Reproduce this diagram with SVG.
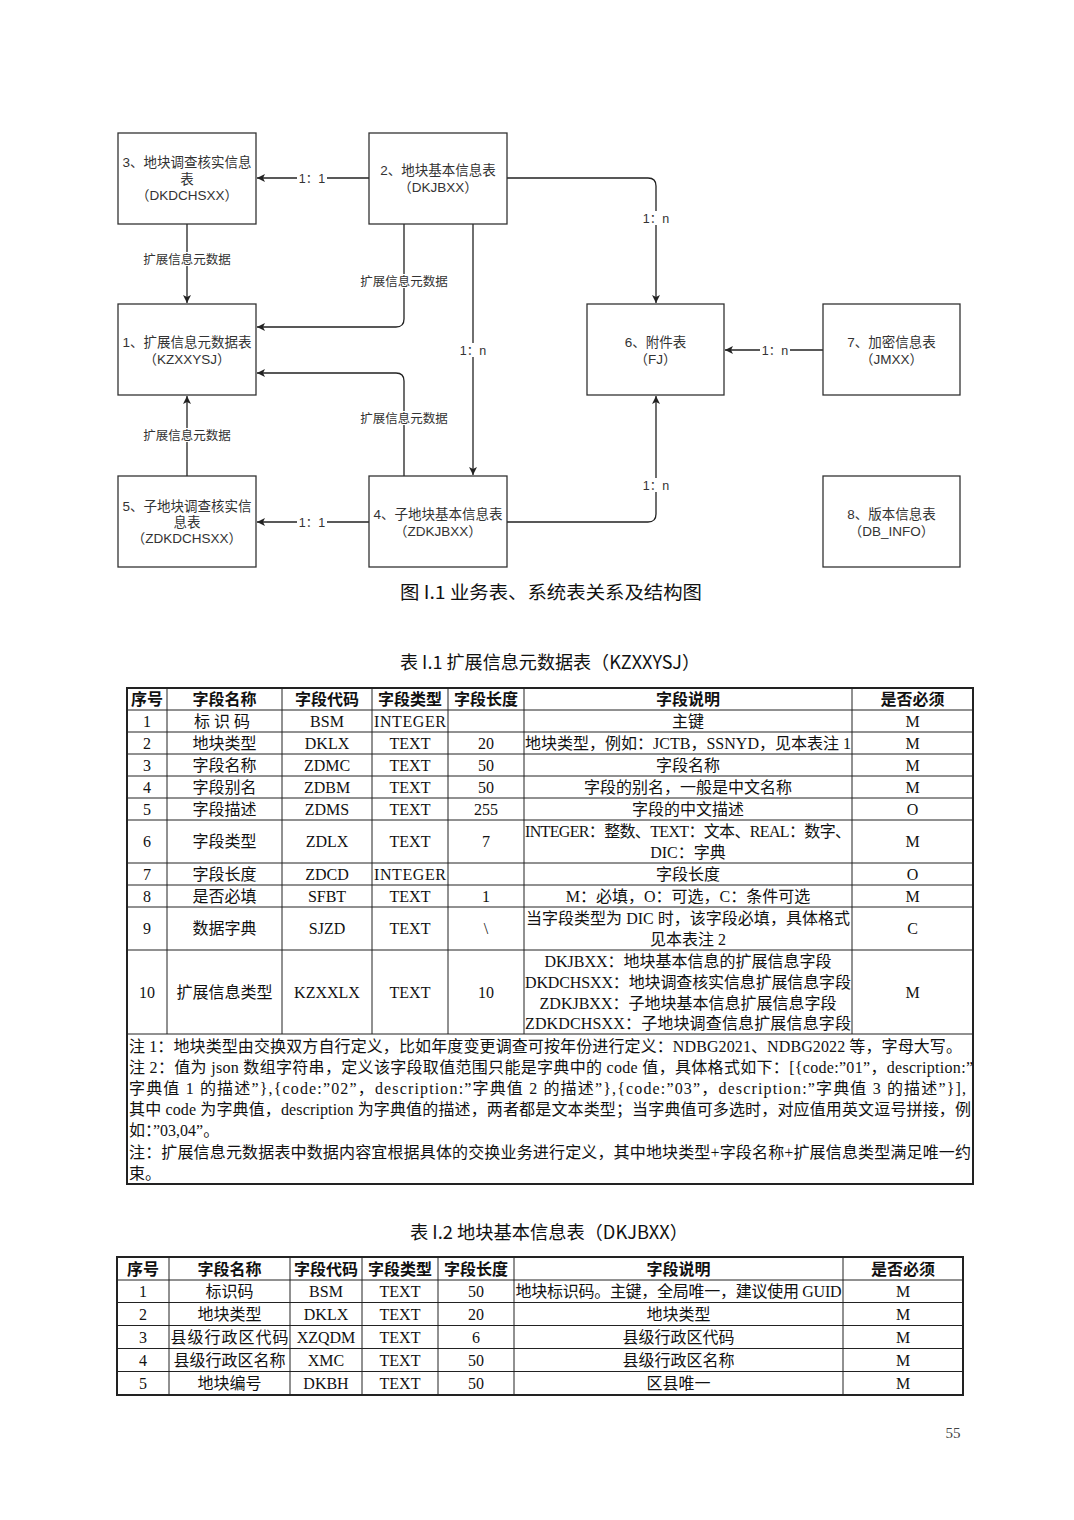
<svg xmlns="http://www.w3.org/2000/svg" width="1074" height="1520" viewBox="0 0 1074 1520">
<defs>
<style>
.box{fill:#fff;stroke:#333;stroke-width:1.3}
.bt{font-family:"Liberation Sans","Noto Sans CJK SC",sans-serif;font-size:13.5px;fill:#333;text-anchor:middle}
.conn{fill:none;stroke:#222;stroke-width:1.3;marker-end:url(#arr)}
.lbl{font-family:"Liberation Sans","Noto Sans CJK SC",sans-serif;font-size:12.5px;fill:#333;text-anchor:middle}
.bg{fill:#fff}
.cap{font-family:"Noto Sans CJK SC",sans-serif;font-size:18px;fill:#111}
.td{font-family:"Liberation Serif","Noto Sans CJK SC",serif;font-size:16px;fill:#111;text-anchor:middle}
.tl{font-family:"Liberation Serif","Noto Sans CJK SC",serif;font-size:16px;fill:#111}
.th{font-family:"Noto Sans CJK SC",sans-serif;font-weight:bold;font-size:16px;fill:#111;text-anchor:middle}
.grid{stroke:#222;stroke-width:1;fill:none}
.outer{stroke:#222;stroke-width:2;fill:none}
.pg{font-family:"Liberation Serif",serif;font-size:15px;fill:#444;text-anchor:middle}
</style>
<marker id="arr" markerWidth="10" markerHeight="10" refX="9" refY="5" orient="auto" markerUnits="userSpaceOnUse">
<path d="M1,1 L9,5 L1,9 L3,5 z" fill="#222"/>
</marker>
</defs>
<rect width="1074" height="1520" fill="#fff"/>

<g id="connectors">
<path class="conn" d="M369,178 H257"/>
<path class="conn" d="M187,224 V303"/>
<path class="conn" d="M404,224 V319 Q404,327 396,327 H257"/>
<path class="conn" d="M473,224 V475"/>
<path class="conn" d="M507,178 H648 Q656,178 656,186 V303"/>
<path class="conn" d="M823,350 H725"/>
<path class="conn" d="M404,476 V381 Q404,373 396,373 H257"/>
<path class="conn" d="M187,476 V396"/>
<path class="conn" d="M369,522 H257"/>
<path class="conn" d="M507,522 H648 Q656,522 656,514 V396"/>
<rect class="bg" x="297" y="171" width="30" height="14"/><text class="lbl" x="312" y="182.5">1：1</text>
<rect class="bg" x="142" y="252" width="90" height="14"/><text class="lbl" x="187" y="263.5">扩展信息元数据</text>
<rect class="bg" x="359" y="274" width="90" height="14"/><text class="lbl" x="404" y="285.5">扩展信息元数据</text>
<rect class="bg" x="458" y="343" width="30" height="14"/><text class="lbl" x="473" y="354.5">1：n</text>
<rect class="bg" x="641" y="211" width="30" height="14"/><text class="lbl" x="656" y="222.5">1：n</text>
<rect class="bg" x="760" y="343" width="30" height="14"/><text class="lbl" x="775" y="354.5">1：n</text>
<rect class="bg" x="359" y="411" width="90" height="14"/><text class="lbl" x="404" y="422.5">扩展信息元数据</text>
<rect class="bg" x="142" y="428" width="90" height="14"/><text class="lbl" x="187" y="439.5">扩展信息元数据</text>
<rect class="bg" x="297" y="515" width="30" height="14"/><text class="lbl" x="312" y="526.5">1：1</text>
<rect class="bg" x="641" y="478" width="30" height="14"/><text class="lbl" x="656" y="489.5">1：n</text>
</g>

<g id="node-3"><rect class="box" x="118" y="133" width="138" height="91"/>
<text class="bt" x="187" y="167">3、地块调查核实信息</text><text class="bt" x="187" y="183.5">表</text><text class="bt" x="187" y="200">（DKDCHSXX）</text></g>
<g id="node-2"><rect class="box" x="369" y="133" width="138" height="91"/>
<text class="bt" x="438" y="175">2、地块基本信息表</text><text class="bt" x="438" y="192">（DKJBXX）</text></g>
<g id="node-1"><rect class="box" x="118" y="304" width="138" height="91"/>
<text class="bt" x="187" y="347">1、扩展信息元数据表</text><text class="bt" x="187" y="364">（KZXXYSJ）</text></g>
<g id="node-6"><rect class="box" x="587" y="304" width="137" height="91"/>
<text class="bt" x="655.5" y="347">6、附件表</text><text class="bt" x="655.5" y="364">（FJ）</text></g>
<g id="node-7"><rect class="box" x="823" y="304" width="137" height="91"/>
<text class="bt" x="891.5" y="347">7、加密信息表</text><text class="bt" x="891.5" y="364">（JMXX）</text></g>
<g id="node-5"><rect class="box" x="118" y="476" width="138" height="91"/>
<text class="bt" x="187" y="511">5、子地块调查核实信</text><text class="bt" x="187" y="527">息表</text><text class="bt" x="187" y="543">（ZDKDCHSXX）</text></g>
<g id="node-4"><rect class="box" x="369" y="476" width="138" height="91"/>
<text class="bt" x="438" y="518.5">4、子地块基本信息表</text><text class="bt" x="438" y="535.5">（ZDKJBXX）</text></g>
<g id="node-8"><rect class="box" x="823" y="476" width="137" height="91"/>
<text class="bt" x="891.5" y="518.5">8、版本信息表</text><text class="bt" x="891.5" y="535.5">（DB_INFO）</text></g>

<text class="cap" x="400" y="599" textLength="302" lengthAdjust="spacingAndGlyphs">图 I.1 业务表、系统表关系及结构图</text>
<text class="cap" x="400" y="669" textLength="300" lengthAdjust="spacingAndGlyphs">表 I.1 扩展信息元数据表（KZXXYSJ）</text>

<g id="table-1">
<rect class="outer" x="127" y="688" width="846" height="496"/>
<path class="grid" d="M167,688V1034 M282,688V1034 M372,688V1034 M448,688V1034 M524,688V1034 M852,688V1034 M127,710H973 M127,732H973 M127,754H973 M127,776H973 M127,798H973 M127,820H973 M127,863H973 M127,885H973 M127,907H973 M127,950H973 M127,1034H973"/>
<text class="th" x="147" y="705">序号</text><text class="th" x="224.5" y="705">字段名称</text><text class="th" x="327" y="705">字段代码</text><text class="th" x="410" y="705">字段类型</text><text class="th" x="486" y="705">字段长度</text><text class="th" x="688" y="705">字段说明</text><text class="th" x="912.5" y="705">是否必须</text>

<text class="td" x="147" y="726.5">1</text><text class="td" x="222" y="726.5" textLength="56">标识码</text><text class="td" x="327" y="726.5">BSM</text><text class="td" x="410" y="726.5" textLength="72">INTEGER</text><text class="td" x="688" y="726.5">主键</text><text class="td" x="912.5" y="726.5">M</text>

<text class="td" x="147" y="748.5">2</text><text class="td" x="224.5" y="748.5">地块类型</text><text class="td" x="327" y="748.5">DKLX</text><text class="td" x="410" y="748.5">TEXT</text><text class="td" x="486" y="748.5">20</text><text class="td" x="688" y="748.5" textLength="326">地块类型，例如：JCTB，SSNYD，见本表注 1</text><text class="td" x="912.5" y="748.5">M</text>

<text class="td" x="147" y="770.5">3</text><text class="td" x="224.5" y="770.5">字段名称</text><text class="td" x="327" y="770.5">ZDMC</text><text class="td" x="410" y="770.5">TEXT</text><text class="td" x="486" y="770.5">50</text><text class="td" x="688" y="770.5">字段名称</text><text class="td" x="912.5" y="770.5">M</text>

<text class="td" x="147" y="792.5">4</text><text class="td" x="224.5" y="792.5">字段别名</text><text class="td" x="327" y="792.5">ZDBM</text><text class="td" x="410" y="792.5">TEXT</text><text class="td" x="486" y="792.5">50</text><text class="td" x="688" y="792.5">字段的别名，一般是中文名称</text><text class="td" x="912.5" y="792.5">M</text>

<text class="td" x="147" y="814.5">5</text><text class="td" x="224.5" y="814.5">字段描述</text><text class="td" x="327" y="814.5">ZDMS</text><text class="td" x="410" y="814.5">TEXT</text><text class="td" x="486" y="814.5">255</text><text class="td" x="688" y="814.5">字段的中文描述</text><text class="td" x="912.5" y="814.5">O</text>

<text class="td" x="147" y="847">6</text><text class="td" x="224.5" y="847">字段类型</text><text class="td" x="327" y="847">ZDLX</text><text class="td" x="410" y="847">TEXT</text><text class="td" x="486" y="847">7</text><text class="td" x="688" y="836.5" textLength="326">INTEGER：整数、TEXT：文本、REAL：数字、</text><text class="td" x="688" y="857.5">DIC：字典</text><text class="td" x="912.5" y="847">M</text>

<text class="td" x="147" y="879.5">7</text><text class="td" x="224.5" y="879.5">字段长度</text><text class="td" x="327" y="879.5">ZDCD</text><text class="td" x="410" y="879.5" textLength="72">INTEGER</text><text class="td" x="688" y="879.5">字段长度</text><text class="td" x="912.5" y="879.5">O</text>

<text class="td" x="147" y="901.5">8</text><text class="td" x="224.5" y="901.5">是否必填</text><text class="td" x="327" y="901.5">SFBT</text><text class="td" x="410" y="901.5">TEXT</text><text class="td" x="486" y="901.5">1</text><text class="td" x="688" y="901.5">M：必填，O：可选，C：条件可选</text><text class="td" x="912.5" y="901.5">M</text>

<text class="td" x="147" y="934">9</text><text class="td" x="224.5" y="934">数据字典</text><text class="td" x="327" y="934">SJZD</text><text class="td" x="410" y="934">TEXT</text><text class="td" x="486" y="934">\</text><text class="td" x="688" y="923.5" textLength="324">当字段类型为 DIC 时，该字段必填，具体格式</text><text class="td" x="688" y="944.5">见本表注 2</text><text class="td" x="912.5" y="934">C</text>

<text class="td" x="147" y="997.5">10</text><text class="td" x="224.5" y="997.5">扩展信息类型</text><text class="td" x="327" y="997.5">KZXXLX</text><text class="td" x="410" y="997.5">TEXT</text><text class="td" x="486" y="997.5">10</text>
<text class="td" x="688" y="966.5">DKJBXX：地块基本信息的扩展信息字段</text>
<text class="td" x="688" y="987.5" textLength="326">DKDCHSXX：地块调查核实信息扩展信息字段</text>
<text class="td" x="688" y="1008.5">ZDKJBXX：子地块基本信息扩展信息字段</text>
<text class="td" x="688" y="1029" textLength="326">ZDKDCHSXX：子地块调查信息扩展信息字段</text>
<text class="td" x="912.5" y="997.5">M</text>

<text class="tl" x="129" y="1051.5" textLength="833">注 1：地块类型由交换双方自行定义，比如年度变更调查可按年份进行定义：NDBG2021、NDBG2022 等，字母大写。</text>
<text class="tl" x="129" y="1072.7" textLength="844">注 2：值为 json 数组字符串，定义该字段取值范围只能是字典中的 code 值，具体格式如下：[{code:”01”，description:”</text>
<text class="tl" x="129" y="1093.9" textLength="837">字典值 1 的描述”},{code:”02”，description:”字典值 2 的描述”},{code:”03”，description:”字典值 3 的描述”}],</text>
<text class="tl" x="129" y="1115.1" textLength="842">其中 code 为字典值，description 为字典值的描述，两者都是文本类型；当字典值可多选时，对应值用英文逗号拼接，例</text>
<text class="tl" x="129" y="1136.3">如：”03,04”。</text>
<text class="tl" x="129" y="1157.5" textLength="842">注：扩展信息元数据表中数据内容宜根据具体的交换业务进行定义，其中地块类型+字段名称+扩展信息类型满足唯一约</text>
<text class="tl" x="129" y="1178.7">束。</text>
</g>

<text class="cap" x="410" y="1239" textLength="278" lengthAdjust="spacingAndGlyphs">表 I.2 地块基本信息表（DKJBXX）</text>

<g id="table-2">
<rect class="outer" x="117" y="1257" width="846" height="138"/>
<path class="grid" d="M169,1257V1395 M290,1257V1395 M362,1257V1395 M438,1257V1395 M514,1257V1395 M843,1257V1395 M117,1280H963 M117,1302.5H963 M117,1325.5H963 M117,1348.5H963 M117,1371.5H963"/>
<text class="th" x="143" y="1274.5">序号</text><text class="th" x="229.5" y="1274.5">字段名称</text><text class="th" x="326" y="1274.5">字段代码</text><text class="th" x="400" y="1274.5">字段类型</text><text class="th" x="476" y="1274.5">字段长度</text><text class="th" x="678.5" y="1274.5">字段说明</text><text class="th" x="903" y="1274.5">是否必须</text>

<text class="td" x="143" y="1296.5">1</text><text class="td" x="229.5" y="1296.5">标识码</text><text class="td" x="326" y="1296.5">BSM</text><text class="td" x="400" y="1296.5">TEXT</text><text class="td" x="476" y="1296.5">50</text><text class="td" x="678.5" y="1296.5" textLength="326">地块标识码。主键，全局唯一，建议使用 GUID</text><text class="td" x="903" y="1296.5">M</text>

<text class="td" x="143" y="1319.5">2</text><text class="td" x="229.5" y="1319.5">地块类型</text><text class="td" x="326" y="1319.5">DKLX</text><text class="td" x="400" y="1319.5">TEXT</text><text class="td" x="476" y="1319.5">20</text><text class="td" x="678.5" y="1319.5">地块类型</text><text class="td" x="903" y="1319.5">M</text>

<text class="td" x="143" y="1342.5">3</text><text class="td" x="229.5" y="1342.5" textLength="118">县级行政区代码</text><text class="td" x="326" y="1342.5">XZQDM</text><text class="td" x="400" y="1342.5">TEXT</text><text class="td" x="476" y="1342.5">6</text><text class="td" x="678.5" y="1342.5">县级行政区代码</text><text class="td" x="903" y="1342.5">M</text>

<text class="td" x="143" y="1365.5">4</text><text class="td" x="229.5" y="1365.5">县级行政区名称</text><text class="td" x="326" y="1365.5">XMC</text><text class="td" x="400" y="1365.5">TEXT</text><text class="td" x="476" y="1365.5">50</text><text class="td" x="678.5" y="1365.5">县级行政区名称</text><text class="td" x="903" y="1365.5">M</text>

<text class="td" x="143" y="1388.5">5</text><text class="td" x="229.5" y="1388.5">地块编号</text><text class="td" x="326" y="1388.5">DKBH</text><text class="td" x="400" y="1388.5">TEXT</text><text class="td" x="476" y="1388.5">50</text><text class="td" x="678.5" y="1388.5">区县唯一</text><text class="td" x="903" y="1388.5">M</text>
</g>

<text class="pg" x="953" y="1438">55</text>
</svg>
